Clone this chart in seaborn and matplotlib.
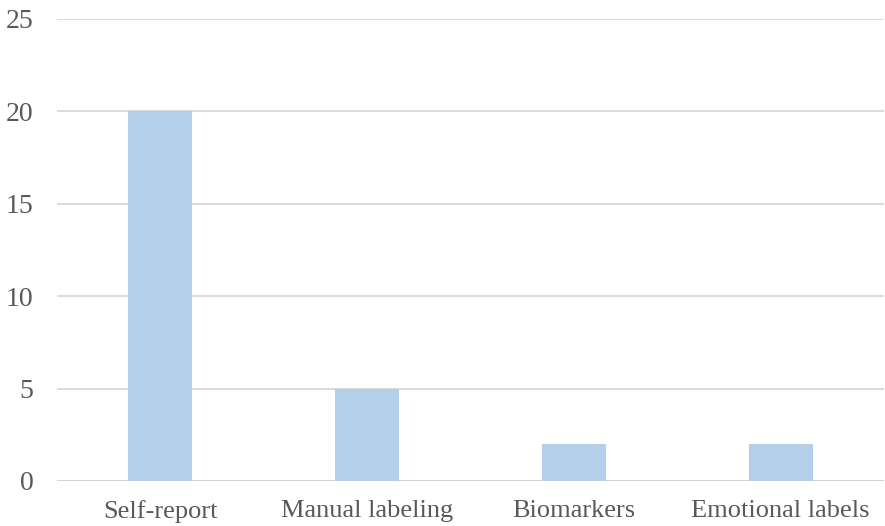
import matplotlib
matplotlib.use("Agg")
import matplotlib.pyplot as plt
import seaborn as sns
import pandas as pd

categories = ["Self-report", "Manual labeling", "Biomarkers", "Emotional labels"]
counts = [20, 5, 2, 2]
y_ticks = [0, 5, 10, 15, 20, 25]

sns.set_theme(style="white")
plt.rcParams["font.family"] = ["Liberation Serif", "DejaVu Serif"]

df = pd.DataFrame({"category": categories, "count": counts})

fig = plt.figure(figsize=(8.85, 5.26), dpi=100)
ax = fig.add_axes([57 / 885, 1 - 481 / 526, (884 - 57) / 885, (481 - 19) / 526])

sns.barplot(data=df, x="category", y="count", color="#b3d0e8", width=0.31,
            saturation=1, linewidth=0, edgecolor="none", ax=ax, zorder=3)

ax.set_ylim(0, 25)
ax.set_xlim(-0.5, len(categories) - 0.5)
ax.set_yticks(y_ticks)
ax.yaxis.grid(True, color="#d4d4d4", linewidth=1.2, zorder=0)
ax.set_axisbelow(True)
for side in ["top", "right", "left", "bottom"]:
    ax.spines[side].set_visible(False)
ax.axhline(0, color="#d4d4d4", linewidth=1.4, zorder=1)

ax.set_xlabel("")
ax.set_ylabel("")
ax.tick_params(axis="x", length=0, pad=14, labelsize=19, labelcolor="#595959")
ax.tick_params(axis="y", length=0, pad=17, labelsize=20, labelcolor="#595959")

fig.savefig("out.png", dpi=100)
